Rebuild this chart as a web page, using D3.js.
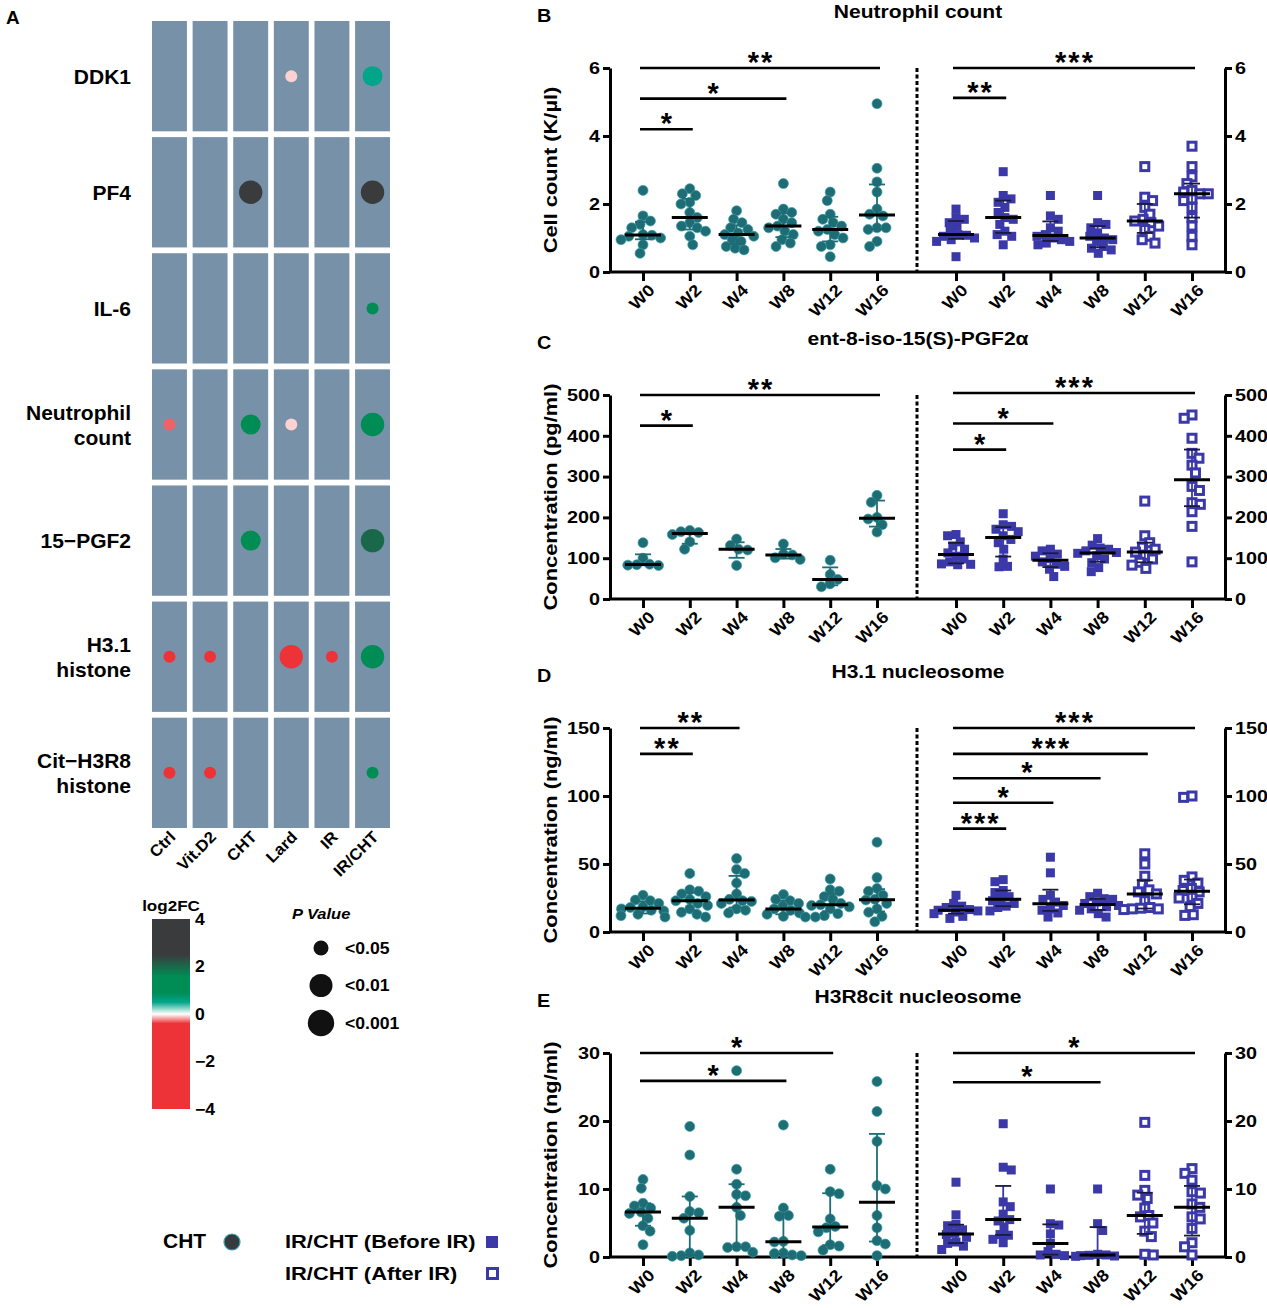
<!DOCTYPE html>
<html>
<head>
<meta charset="utf-8">
<script src="https://cdn.jsdelivr.net/npm/d3@7"></script>
<style>
  body { margin: 0; background: #fff; }
  svg { display: block; font-family: "Liberation Sans", Arial, Helvetica, sans-serif; font-weight: bold; }
</style>
</head>
<body>
<div id="chart"></div>
<script>
// ---------- data ----------
const weeks = ["W0", "W2", "W4", "W8", "W12", "W16"];

// panel A: bubble heatmap
const heatCols = ["Ctrl", "Vit.D2", "CHT", "Lard", "IR", "IR/CHT"];
const heatRows = ["DDK1", "PF4", "IL-6", "Neutrophil count", "15−PGF2", "H3.1 histone", "Cit−H3R8 histone"];
const heatRowLines = [["DDK1"], ["PF4"], ["IL-6"], ["Neutrophil", "count"], ["15−PGF2"], ["H3.1", "histone"], ["Cit−H3R8", "histone"]];
// [row, column, log2FC, p value class]
const heatHits = [
  ["DDK1", "Lard", -0.09, "<0.05"],
  ["DDK1", "IR/CHT", 0.5, "<0.01"],
  ["PF4", "CHT", 3.6, "<0.001"],
  ["PF4", "IR/CHT", 3.5, "<0.001"],
  ["IL-6", "IR/CHT", 1.2, "<0.05"],
  ["Neutrophil count", "Ctrl", -0.31, "<0.05"],
  ["Neutrophil count", "CHT", 1.2, "<0.01"],
  ["Neutrophil count", "Lard", -0.09, "<0.05"],
  ["Neutrophil count", "IR/CHT", 1.25, "<0.001"],
  ["15−PGF2", "CHT", 1.3, "<0.01"],
  ["15−PGF2", "IR/CHT", 2.0, "<0.001"],
  ["H3.1 histone", "Ctrl", -1.2, "<0.05"],
  ["H3.1 histone", "Vit.D2", -1.1, "<0.05"],
  ["H3.1 histone", "Lard", -1.8, "<0.001"],
  ["H3.1 histone", "IR", -1.0, "<0.05"],
  ["H3.1 histone", "IR/CHT", 1.3, "<0.001"],
  ["Cit−H3R8 histone", "Ctrl", -1.3, "<0.05"],
  ["Cit−H3R8 histone", "Vit.D2", -1.2, "<0.05"],
  ["Cit−H3R8 histone", "IR/CHT", 1.2, "<0.05"]
];
const fcTicks = [4, 2, 0, -2, -4];
const pLevels = ["<0.05", "<0.01", "<0.001"];

// panels B-E: one array of values per week
const neutroCHT = [
  [2.4, 1.65, 1.5, 1.4, 1.3, 1.1, 1.08, 1.05, 1.0, 0.95, 0.8, 0.55],
  [2.45, 2.3, 2.25, 2.05, 2.0, 1.75, 1.6, 1.45, 1.35, 1.3, 1.2, 1.05, 0.8],
  [1.8, 1.55, 1.45, 1.3, 1.25, 1.15, 1.1, 1.05, 0.95, 0.9, 0.75, 0.7, 0.65],
  [2.6, 1.85, 1.75, 1.7, 1.55, 1.45, 1.35, 1.3, 1.2, 1.1, 0.95, 0.85, 0.75],
  [2.35, 2.1, 1.7, 1.55, 1.45, 1.35, 1.25, 1.2, 1.1, 1.0, 0.8, 0.75, 0.45],
  [4.95, 3.05, 2.65, 2.35, 1.85, 1.7, 1.65, 1.3, 1.3, 1.25, 0.9, 0.75]
];
const neutroIR = [
  [1.85, 1.6, 1.55, 1.45, 1.35, 1.2, 1.1, 1.08, 1.05, 1.0, 0.95, 0.9, 0.45],
  [2.95, 2.25, 2.15, 2.05, 1.9, 1.75, 1.6, 1.55, 1.4, 1.2, 1.1, 1.05, 0.8],
  [2.25, 1.65, 1.55, 1.3, 1.2, 1.1, 1.05, 1.0, 0.95, 0.9, 0.85, 0.8],
  [2.25, 1.45, 1.4, 1.3, 1.15, 1.05, 1.0, 0.95, 0.9, 0.75, 0.7, 0.65, 0.55],
  [3.1, 2.2, 2.1, 1.9, 1.7, 1.55, 1.5, 1.45, 1.35, 1.25, 1.05, 0.95, 0.85],
  [3.7, 3.1, 2.8, 2.6, 2.4, 2.35, 2.3, 2.3, 2.15, 2.1, 1.9, 1.6, 1.35, 1.05, 0.8]
];
const pgfCHT = [
  [138, 100, 85, 84, 83, 82],
  [168, 165, 163, 158, 140, 122],
  [147, 131, 122, 120, 82],
  [135, 110, 108, 101, 97],
  [95, 60, 48, 37, 30],
  [254, 237, 200, 196, 182, 164]
];
const pgfIR = [
  [158, 155, 140, 130, 122, 113, 105, 98, 91, 86, 85, 84],
  [209, 182, 178, 171, 165, 155, 146, 138, 122, 98, 80, 79],
  [122, 118, 110, 105, 99, 91, 85, 80, 73, 55],
  [148, 132, 125, 122, 118, 114, 112, 106, 98, 89, 77, 67],
  [240, 155, 138, 127, 122, 115, 107, 98, 90, 83, 75],
  [451, 443, 394, 357, 345, 328, 309, 276, 266, 236, 232, 214, 178, 91]
];
const h31CHT = [
  [27, 23.5, 23, 21, 18.5, 18, 17, 16, 15.5, 13, 12, 11],
  [43, 31, 30, 28, 26, 24, 23, 21, 19.5, 17, 14.5, 13, 11],
  [54, 46, 43, 36, 28, 24, 23, 22.5, 21, 17, 16, 14],
  [27.5, 24, 23, 21, 19, 17, 16, 14, 13, 11.5, 11],
  [39, 31, 30, 26, 24, 21, 20, 19.5, 18.5, 17, 13.5, 12, 11],
  [66, 40, 32, 30, 27, 24, 23.5, 21, 17, 14.5, 11.5, 7.5]
];
const h31IR = [
  [27, 21, 19, 18, 16.5, 16, 15.5, 14.7, 13.5, 11.5, 10],
  [38.5, 37, 30.5, 29, 26, 24, 23, 21, 19, 18, 15.5],
  [55, 43.5, 27, 24, 22, 19.5, 17, 16, 14, 11],
  [28.5, 26, 24.5, 24, 22, 21, 19.5, 18.5, 17, 16, 13.5, 11],
  [57.5, 50, 41, 35, 31, 29.5, 28, 23, 18, 17.5, 17, 17, 16.5],
  [100, 99, 40.5, 38, 36, 32, 30.5, 29.5, 25.5, 25, 21, 18.5, 12.7, 12.2]
];
const h3r8CHT = [
  [11.4, 10.1, 7.9, 7.5, 7.2, 6.6, 6.4, 5.7, 4.6, 3.8, 1.8],
  [19.2, 15, 8.9, 6.7, 6.5, 5.7, 3.9, 0.6, 0.3, 0.2, 0.1],
  [27.4, 12.9, 10.7, 9.2, 9.0, 7.3, 6.1, 1.5, 1.5, 1.4, 0.7],
  [19.4, 7.2, 6.1, 6.0, 2.3, 2.2, 0.6, 0.5, 0.3, 0.2],
  [12.9, 9.6, 9.3, 5.6, 4.5, 4.3, 3.7, 1.8, 1.6, 1.0],
  [25.8, 21.4, 17, 10.5, 10.0, 6.1, 4.3, 2.4, 1.9, 0.2]
];
const h3r8IR = [
  [11, 6.2, 4.8, 4.6, 4.0, 3.5, 3.3, 2.9, 2.2, 2.0, 1.6, 1.1],
  [19.6, 13.2, 12.8, 8.1, 7.4, 6.3, 5.5, 5.3, 4.4, 3.3, 3.2, 2.6, 2.1],
  [10, 4.9, 4.7, 3.4, 2.0, 0.8, 0.4, 0.3, 0.2],
  [10, 4.9, 3.9, 0.4, 0.3, 0.25, 0.2, 0.15, 0.1],
  [19.8, 12, 9.8, 9.1, 8.6, 7.2, 6.1, 5.9, 5.0, 3.8, 3.0, 0.4, 0.3],
  [13, 12.3, 11.3, 9.6, 9.4, 7.8, 7.3, 5.9, 5.6, 4.2, 2.1, 1.5, 0.3]
];

// significance bars: [compared week (vs W0), height in data units, stars]
const neutroSigCHT = [["W16", 6, "**"], ["W8", 5.1, "*"], ["W2", 4.2, "*"]];
const neutroSigIR = [["W16", 6, "***"], ["W2", 5.12, "**"]];
const pgfSigCHT = [["W16", 500, "**"], ["W2", 425, "*"]];
const pgfSigIR = [["W16", 505, "***"], ["W4", 430, "*"], ["W2", 366, "*"]];
const h31SigCHT = [["W4", 150, "**"], ["W2", 131, "**"]];
const h31SigIR = [["W16", 150, "***"], ["W12", 131, "***"], ["W8", 113, "*"], ["W4", 95, "*"], ["W2", 76, "***"]];
const h3r8SigCHT = [["W12", 30, "*"], ["W8", 25.9, "*"]];
const h3r8SigIR = [["W16", 30, "*"], ["W8", 25.7, "*"]];

// ---------- setup ----------
const W = 1267, H = 1308, SX = 1.15;
const tealFill = "#1e6c74", tealEdge = "#3a9eab", blue = "#3b39a8";

const svg = d3.select("#chart").append("svg")
  .attr("width", W)
  .attr("height", H)
  .style("background", "#fff");

// text helper: bold, slightly widened like the original artwork
function label(g, x, y, str, o = {}) {
  const t = g.append("text")
    .attr("transform", `translate(${x},${y})` + (o.rotate ? ` rotate(${o.rotate})` : "") + ` scale(${o.sx ?? SX},1)`)
    .attr("text-anchor", o.anchor || "start")
    .attr("dy", o.dy || null)
    .style("font-size", (o.size || 15) + "px")
    .text(str);
  if (o.italic) t.style("font-style", "italic");
  return t;
}

// Prism-like quartiles (p*(n+1))
function quart(sorted, p) {
  const n = sorted.length, h = p * (n + 1) - 1;
  if (h <= 0) return sorted[0];
  if (h >= n - 1) return sorted[n - 1];
  const i = Math.floor(h);
  return sorted[i] + (h - i) * (sorted[i + 1] - sorted[i]);
}

// simple deterministic beeswarm: x offsets for given y pixels, capped width
function swarm(ys, d, cap) {
  const order = d3.range(ys.length).sort((a, b) => ys[a] - ys[b]);
  const placed = [], xs = new Array(ys.length);
  order.forEach((idx, k) => {
    const yy = ys[idx];
    const near = placed.filter(q => Math.abs(q.y - yy) < d);
    const cands = [0];
    near.forEach(q => {
      const w = Math.sqrt(d * d - (q.y - yy) ** 2);
      cands.push(q.x + w, q.x - w);
    });
    cands.sort((a, b) => (Math.abs(a) - Math.abs(b)) || (k % 2 ? a - b : b - a));
    let ok = cands.find(c => near.every(q => (q.x - c) ** 2 + (q.y - yy) ** 2 >= d * d - 0.01));
    ok = Math.max(-cap, Math.min(cap, ok));
    xs[idx] = ok;
    placed.push({ x: ok, y: yy });
  });
  return xs;
}

// ---------- panel A ----------
const gA = svg.append("g");
label(gA, 6, 24, "A", { size: 18, sx: 1.05 });

const hx = d3.scaleBand().domain(heatCols).range([152, 390]).paddingInner(0.14);
const hy = d3.scaleBand().domain(heatRows).range([21, 828]).paddingInner(0.05);
const fcColor = d3.scaleLinear()
  .domain([-4, -0.4, 0, 0.5, 0.9, 1.6, 2.5, 4])
  .range(["#ee3338", "#ee3338", "#ffffff", "#00a58a", "#008c55", "#008c55", "#3a3b3d", "#3a3b3d"]);
const pRadius = d3.scaleOrdinal().domain(pLevels).range([6, 10, 11.7]);

gA.selectAll("rect.cell")
  .data(d3.cross(heatRows, heatCols))
  .enter().append("rect")
  .attr("class", "cell")
  .attr("x", d => hx(d[1]))
  .attr("y", d => hy(d[0]))
  .attr("width", hx.bandwidth())
  .attr("height", hy.bandwidth())
  .attr("fill", "#7792a8");

gA.selectAll("circle.hit")
  .data(heatHits)
  .enter().append("circle")
  .attr("class", "hit")
  .attr("cx", d => hx(d[1]) + hx.bandwidth() / 2)
  .attr("cy", d => hy(d[0]) + hy.bandwidth() / 2)
  .attr("r", d => pRadius(d[3]))
  .attr("fill", d => fcColor(d[2]));

heatRows.forEach((r, i) => {
  const lines = heatRowLines[i];
  const cy = hy(r) + hy.bandwidth() / 2;
  lines.forEach((ln, j) => {
    label(gA, 131, cy + (j - (lines.length - 1) / 2) * 25, ln, { size: 21, anchor: "end", dy: "0.36em", sx: 1 });
  });
});

heatCols.forEach(c => {
  label(gA, hx(c) + hx.bandwidth() / 2 + 7, 838, c, { size: 16, anchor: "end", rotate: -45, sx: 1.05 });
});

// colour bar
const defs = svg.append("defs");
const grad = defs.append("linearGradient").attr("id", "fcGrad")
  .attr("x1", 0).attr("y1", 0).attr("x2", 0).attr("y2", 1);
d3.range(0, 161).forEach(i => {
  grad.append("stop").attr("offset", i / 160).attr("stop-color", fcColor(4 - i * 0.05));
});
const cbY = d3.scaleLinear().domain([4, -4]).range([919, 1109]);
gA.append("rect")
  .attr("x", 152).attr("y", cbY(4))
  .attr("width", 38).attr("height", cbY(-4) - cbY(4))
  .attr("fill", "url(#fcGrad)");
const cbAxis = gA.append("g")
  .attr("transform", "translate(190,0)")
  .call(d3.axisRight(cbY).tickValues(fcTicks).tickSize(0).tickPadding(5)
    .tickFormat(d => d < 0 ? "−" + Math.abs(d) : d));
cbAxis.select(".domain").remove();
cbAxis.attr("font-size", null).attr("font-family", null);
cbAxis.selectAll("text").style("font-size", "16px").style("font-weight", "bold")
  .attr("transform", "scale(1.1,1)").attr("x", 5 / 1.1);
label(gA, 171, 911, "log2FC", { size: 15.5, anchor: "middle", sx: 1.1 });

// p value legend
const pY = d3.scalePoint().domain(pLevels).range([948, 1023]);
label(gA, 292, 919, "P Value", { size: 15, italic: true, sx: 1.1 });
pLevels.forEach(p => {
  gA.append("circle").attr("cx", 321).attr("cy", pY(p)).attr("r", pRadius(p) + 1.5).attr("fill", "#111");
  label(gA, 345, pY(p), p, { size: 16, dy: "0.36em", sx: 1.1 });
});

// group legend (bottom left)
label(gA, 163, 1248, "CHT", { size: 20, sx: 1.05 });
gA.append("circle").attr("cx", 232).attr("cy", 1242).attr("r", 8)
  .attr("fill", "#353a3f").attr("stroke", tealEdge).attr("stroke-width", 1.2);
label(gA, 285, 1248, "IR/CHT (Before IR)", { size: 19 });
label(gA, 285, 1280, "IR/CHT (After IR)", { size: 19 });
gA.append("rect").attr("x", 486).attr("y", 1236).attr("width", 12).attr("height", 12).attr("fill", blue);
gA.append("rect").attr("x", 487.5).attr("y", 1268.5).attr("width", 10).attr("height", 10)
  .attr("fill", "#fff").attr("stroke", blue).attr("stroke-width", 3);

// ---------- panels B-E ----------
const xL = 610, xSep = 917, xR = 1225, PH = 204;
const panels = [
  { letter: "B", title: "Neutrophil count", yTitle: "Cell count (K/µl)", top: 68, max: 6, ticks: [0, 2, 4, 6],
    cht: neutroCHT, ir: neutroIR, sigC: neutroSigCHT, sigI: neutroSigIR },
  { letter: "C", title: "ent-8-iso-15(S)-PGF2α", yTitle: "Concentration (pg/ml)", top: 395, max: 500, ticks: [0, 100, 200, 300, 400, 500],
    cht: pgfCHT, ir: pgfIR, sigC: pgfSigCHT, sigI: pgfSigIR },
  { letter: "D", title: "H3.1 nucleosome", yTitle: "Concentration (ng/ml)", top: 728, max: 150, ticks: [0, 50, 100, 150],
    cht: h31CHT, ir: h31IR, sigC: h31SigCHT, sigI: h31SigIR },
  { letter: "E", title: "H3R8cit nucleosome", yTitle: "Concentration (ng/ml)", top: 1053, max: 30, ticks: [0, 10, 20, 30],
    cht: h3r8CHT, ir: h3r8IR, sigC: h3r8SigCHT, sigI: h3r8SigIR }
];

function styleAxis(a, size) {
  a.attr("font-size", null).attr("font-family", null);
  a.selectAll(".domain, line").attr("stroke", "#000").attr("stroke-width", 3);
  a.selectAll("text").style("font-size", size + "px").style("font-weight", "bold");
}

function drawGroups(g, sc, y, groups, isIR) {
  groups.forEach((vals, i) => {
    const cx = sc(weeks[i]);
    const ys = vals.map(y);
    const xs = swarm(ys, isIR ? 8.5 : 9, 22);
    const open = isIR && i >= 4;

    if (isIR) {
      g.selectAll(null).data(vals).enter().append("rect")
        .attr("x", (d, j) => cx + xs[j] - (open ? 4 : 4.5))
        .attr("y", (d, j) => ys[j] - (open ? 4 : 4.5))
        .attr("width", open ? 8 : 9)
        .attr("height", open ? 8 : 9)
        .attr("fill", open ? "#fff" : blue)
        .attr("stroke", blue)
        .attr("stroke-width", open ? 3 : 0);
    } else {
      g.selectAll(null).data(vals).enter().append("circle")
        .attr("cx", (d, j) => cx + xs[j])
        .attr("cy", (d, j) => ys[j])
        .attr("r", 5)
        .attr("fill", tealFill)
        .attr("stroke", tealEdge)
        .attr("stroke-width", 0.7);
    }

    const s = vals.slice().sort(d3.ascending);
    const med = d3.median(s), q1 = quart(s, 0.25), q3 = quart(s, 0.75);
    const ec = isIR ? blue : tealFill;
    g.append("line").attr("x1", cx).attr("x2", cx).attr("y1", y(q1)).attr("y2", y(q3))
      .attr("stroke", ec).attr("stroke-width", 1.8);
    [q1, q3].forEach(q => {
      g.append("line").attr("x1", cx - 8).attr("x2", cx + 8).attr("y1", y(q)).attr("y2", y(q))
        .attr("stroke", isIR ? "#1a1a40" : ec).attr("stroke-width", 1.8);
    });
    g.append("line").attr("x1", cx - 18).attr("x2", cx + 18).attr("y1", y(med)).attr("y2", y(med))
      .attr("stroke", "#000").attr("stroke-width", 3);
  });
}

function drawSig(g, sc, y, sig) {
  sig.forEach(([to, v, stars]) => {
    const x1 = sc("W0") - 3, x2 = sc(to) + 3, yy = y(v);
    g.append("line").attr("x1", x1).attr("x2", x2).attr("y1", yy).attr("y2", yy)
      .attr("stroke", "#000").attr("stroke-width", 2.6);
    g.append("text")
      .attr("x", (x1 + x2) / 2 + 1).attr("y", yy + 4)
      .attr("text-anchor", "middle")
      .style("font-size", "29px")
      .style("letter-spacing", "2px")
      .text(stars);
  });
}

panels.forEach(p => {
  const g = svg.append("g");
  const bottom = p.top + PH;
  const y = d3.scaleLinear().domain([0, p.max]).range([bottom, p.top]);
  const xc = d3.scalePoint().domain(weeks).range([xL + 33, xL + 267]);
  const xi = d3.scalePoint().domain(weeks).range([xSep + 39, xSep + 275]);

  label(g, 537, p.top - 46, p.letter, { size: 18, sx: 1.1 });
  label(g, 918, p.top - 50, p.title, { size: 18, anchor: "middle", sx: 1.17 });
  label(g, 557, (p.top + bottom) / 2, p.yTitle, { size: 19, anchor: "middle", rotate: -90, sx: 1.15 });

  // y axes
  const ya = g.append("g").attr("transform", `translate(${xL},0)`)
    .call(d3.axisLeft(y).tickValues(p.ticks).tickFormat(d3.format("d")).tickSize(7).tickSizeOuter(0).tickPadding(3));
  styleAxis(ya, 16.5);
  ya.selectAll("text").attr("transform", function () {
    const x = +d3.select(this).attr("x");
    return `translate(${x},0) scale(1.2,1)`;
  }).attr("x", 0);

  const yb = g.append("g").attr("transform", `translate(${xR},0)`)
    .call(d3.axisRight(y).tickValues(p.ticks).tickFormat(d3.format("d")).tickSize(7).tickSizeOuter(0).tickPadding(3));
  styleAxis(yb, 16.5);
  yb.selectAll("text").attr("transform", function () {
    const x = +d3.select(this).attr("x");
    return `translate(${x},0) scale(1.2,1)`;
  }).attr("x", 0);

  // x axes (two sub plots on one base line)
  [xc, xi].forEach(sc => {
    const xa = g.append("g").attr("transform", `translate(0,${bottom})`)
      .call(d3.axisBottom(sc).tickSize(9).tickSizeOuter(0));
    xa.select(".domain").remove();
    styleAxis(xa, 16.5);
    xa.selectAll("text")
      .attr("x", null).attr("y", null)
      .attr("dy", "0.36em")
      .attr("text-anchor", "end")
      .attr("transform", `translate(8,15) rotate(-45) scale(1.12,1)`);
  });
  g.append("line").attr("x1", xL).attr("x2", xR).attr("y1", bottom).attr("y2", bottom)
    .attr("stroke", "#000").attr("stroke-width", 3);

  // dashed separator
  g.append("line").attr("x1", xSep).attr("x2", xSep).attr("y1", p.top).attr("y2", bottom)
    .attr("stroke", "#000").attr("stroke-width", 3).attr("stroke-dasharray", "4,2.5");

  drawGroups(g, xc, y, p.cht, false);
  drawGroups(g, xi, y, p.ir, true);
  drawSig(g, xc, y, p.sigC);
  drawSig(g, xi, y, p.sigI);
});
</script>
</body>
</html>
